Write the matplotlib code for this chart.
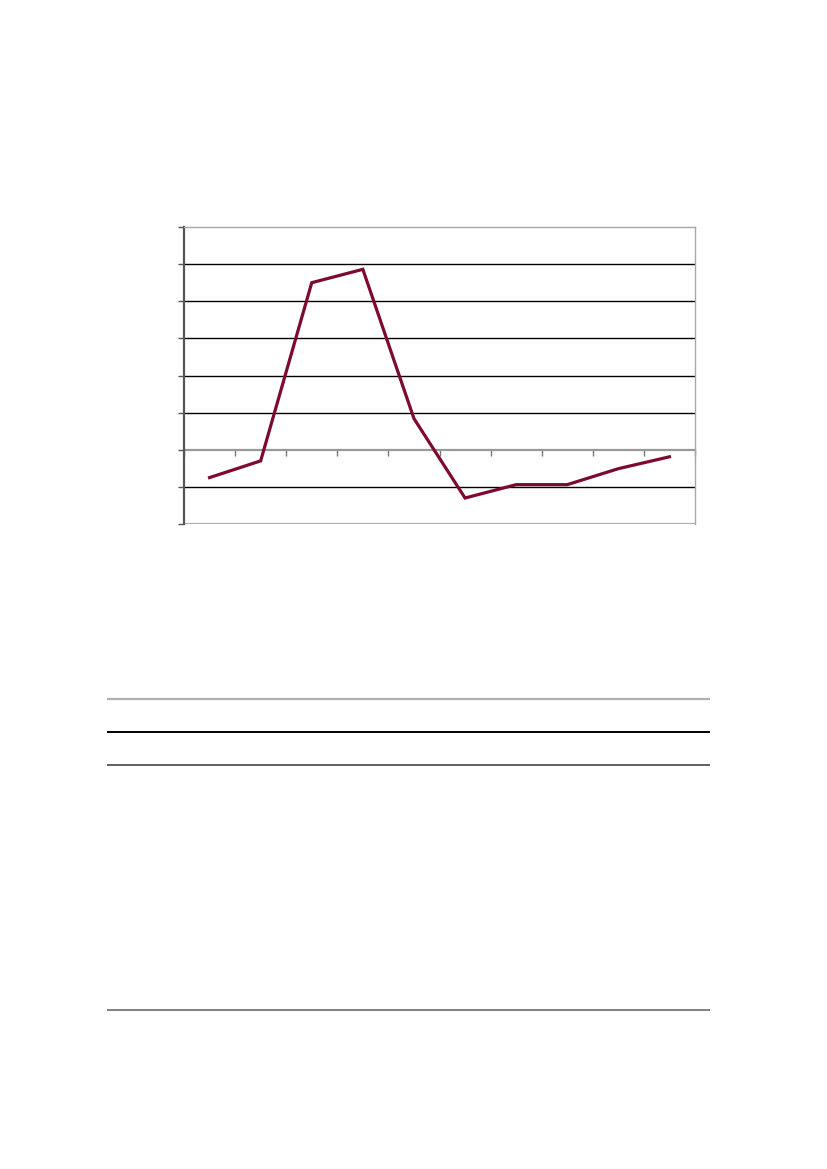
import numpy as np
import matplotlib.pyplot as plt
from matplotlib.ticker import FixedLocator

# valores (10 periodos)
periodos = [1, 2, 3, 4, 5, 6, 7, 8, 9, 10]
valores = [-0.75, -0.30, 4.50, 4.86, 0.84, -1.30, -0.94, -0.94, -0.51, -0.19]
grade_y = [-2, -1, 0, 1, 2, 3, 4, 5, 6]

# linhas da tabela em baixo (posicao relativa dentro do bloco da tabela)
linhas_tabela = [0.0, 33.0, 66.0, 313.0]
cores_tabela = ["#b0b0b0", "#000000", "#606060", "#808080"]
larguras_tabela = [1.6, 1.4, 1.4, 1.4]

fig = plt.figure(figsize=(8.27, 11.69), dpi=100)
W, H = 827, 1169

# grafico de linha
ax = fig.add_axes([184 / W, 1 - 524 / H, (695 - 184) / W, (524 - 227) / H])
ax.set_xlim(0.5, 10.5)
ax.set_ylim(-2, 6)

for g in grade_y:
    if g not in (-2, 0, 6):
        ax.axhline(g, color="black", lw=1.0, zorder=1)

ax.plot(periodos, valores, color="#7d0a2e", lw=2.3, zorder=3, solid_joinstyle="miter")

# bordas da area do grafico
for s in ["top", "right"]:
    ax.spines[s].set_color("#a8a8a8")
    ax.spines[s].set_linewidth(1.0)
ax.spines["left"].set_color("#555555")
ax.spines["left"].set_linewidth(1.6)
ax.spines["bottom"].set_position(("data", 0))
ax.spines["bottom"].set_color("#999999")
ax.spines["bottom"].set_linewidth(1.6)
ax.spines["bottom"].set_zorder(2)

# borda de baixo separada
ax.axhline(-2, color="#b0b0b0", lw=1.6, zorder=1)

ax.xaxis.set_major_locator(FixedLocator(np.arange(0.5, 11, 1)))
ax.yaxis.set_major_locator(FixedLocator(grade_y))
ax.tick_params(axis="x", direction="out", length=4, width=1, color="#777777", labelbottom=False)
ax.tick_params(axis="y", direction="out", length=4, width=1, color="#555555", labelleft=False)

# tabela (apenas linhas)
axt = fig.add_axes([107 / W, 1 - 1012 / H, (710 - 107) / W, (1012 - 697) / H])
axt.set_xlim(0, 1)
axt.set_ylim(315, -2)
for yl, c, lw in zip(linhas_tabela, cores_tabela, larguras_tabela):
    axt.axhline(yl, color=c, lw=lw)
axt.axis("off")

fig.savefig("out.png", dpi=100)
plt.close()
